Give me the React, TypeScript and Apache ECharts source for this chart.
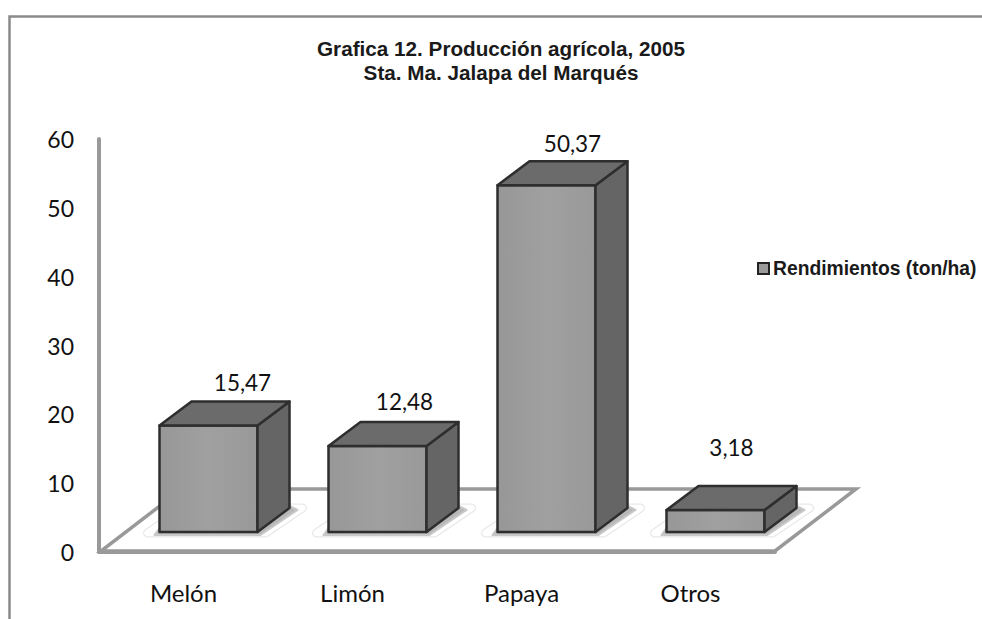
import React, { useEffect, useRef } from "react";
import * as echarts from "echarts";

const categories = ["Melón", "Limón", "Papaya", "Otros"];
const rendimientos = [15.47, 12.48, 50.37, 3.18];
const seriesName = "Rendimientos (ton/ha)";
const titleText = "Grafica 12. Producción agrícola, 2005\nSta. Ma. Jalapa del Marqués";
const yTicks = { min: 0, max: 60, interval: 10 };

// Placement of each data label relative to its bar (dx, dy in px)
const labelNudgeX = [34, 27, 26, 16];
const labelNudgeY = [-43, -45, -42, -63];

const TICK_FONT = "Lato, Carlito, sans-serif";
const BOLD_FONT = "'Liberation Sans', Arial, sans-serif";

const BAR_W = 98;
const DEPTH_X = 32;
const DEPTH_Y = -24;
const FLOOR_DX = 25;
const FLOOR_DY = -20;

function renderBar(_params: any, api: any) {
  const i = api.value(0);
  const v = api.value(1);
  const top = api.coord([i, v]);
  const base = api.coord([i, 0]);
  const cx = top[0] + FLOOR_DX;
  const fx = cx - BAR_W / 2;
  const rx = fx + BAR_W;
  const ty = top[1] + FLOOR_DY;
  const by = base[1] + FLOOR_DY;
  const edge = { stroke: "#2e2e2e", lineWidth: 2.5, lineJoin: "round" };
  const poly = (points: number[][], fill: any, extra: any = {}) => ({
    type: "polygon",
    shape: { points },
    style: { fill, ...edge, ...extra },
  });
  const halo = [
    [fx - 12, by + 1],
    [fx + 106, by + 1],
    [fx + 143, by - 24],
    [fx + 25, by - 24],
  ];
  const shade = [
    [fx - 5, by + 3],
    [rx + 3, by + 3],
    [rx + DEPTH_X + 8, by + DEPTH_Y + 2],
    [rx + DEPTH_X, by + DEPTH_Y - 2],
    [fx, by - 4],
  ];
  return {
    type: "group",
    children: [
      poly(halo, "#ffffff", { stroke: "#e8e8e8", lineWidth: 9 }),
      poly(halo, "#ffffff", { stroke: "#ffffff", lineWidth: 6.5 }),
      poly(shade, "#b8b8b8", { stroke: "#c8c8c8", lineWidth: 2 }),
      poly(
        [
          [fx, ty],
          [rx, ty],
          [rx, by],
          [fx, by],
        ],
        new echarts.graphic.LinearGradient(0, 0, 1, 0, [
          { offset: 0, color: "#979797" },
          { offset: 0.5, color: "#a0a0a0" },
          { offset: 1, color: "#999999" },
        ])
      ),
      poly(
        [
          [rx, ty],
          [rx + DEPTH_X, ty + DEPTH_Y],
          [rx + DEPTH_X, by + DEPTH_Y],
          [rx, by],
        ],
        "#656565"
      ),
      poly(
        [
          [fx, ty],
          [fx + DEPTH_X, ty + DEPTH_Y],
          [rx + DEPTH_X, ty + DEPTH_Y],
          [rx, ty],
        ],
        "#6b6b6b"
      ),
      {
        type: "text",
        style: {
          text: String(v).replace(".", ","),
          x: cx + labelNudgeX[i],
          y: ty + labelNudgeY[i],
          align: "center",
          verticalAlign: "middle",
          fontFamily: TICK_FONT,
          fontSize: 22.5,
          fill: "#111111",
        },
      },
    ],
  };
}

export default function App() {
  const ref = useRef<HTMLDivElement>(null);
  useEffect(() => {
    document.body.style.margin = "0";
    document.body.style.background = "#ffffff";
    const chart = echarts.init(ref.current!, null, { renderer: "svg" });
    chart.setOption({
      animation: false,
      backgroundColor: "#ffffff",
      title: {
        text: titleText,
        left: 501,
        top: 36,
        padding: 0,
        textAlign: "center",
        textStyle: {
          fontFamily: BOLD_FONT,
          fontWeight: "bold",
          fontSize: 20.7,
          lineHeight: 24,
          color: "#1a1a1a",
        },
      },
      legend: {
        left: 757,
        top: 259,
        padding: 0,
        itemWidth: 11,
        itemHeight: 11,
        itemGap: 0,
        data: [
          {
            name: seriesName,
            icon: "rect",
            itemStyle: { color: "#9a9a9a", borderColor: "#222222", borderWidth: 2 },
          },
        ],
        textStyle: {
          fontFamily: BOLD_FONT,
          fontWeight: "bold",
          fontSize: 19.3,
          color: "#1a1a1a",
          padding: [0, 0, 0, -1],
        },
      },
      grid: { left: 99, right: 207, top: 139, bottom: 67 },
      xAxis: {
        type: "category",
        data: categories,
        axisLine: { show: true, lineStyle: { color: "#999999", width: 4 } },
        axisTick: { show: false },
        splitLine: { show: false },
        axisLabel: {
          margin: 28,
          fontFamily: TICK_FONT,
          fontSize: 24,
          color: "#111111",
        },
      },
      yAxis: {
        type: "value",
        min: yTicks.min,
        max: yTicks.max,
        interval: yTicks.interval,
        axisLine: { show: true, lineStyle: { color: "#999999", width: 4 } },
        axisTick: { show: false },
        splitLine: { show: false },
        axisLabel: {
          margin: 25,
          fontFamily: TICK_FONT,
          fontSize: 23,
          color: "#111111",
        },
      },
      graphic: [
        {
          type: "polyline",
          z: 0,
          silent: true,
          shape: {
            points: [
              [9.5, 619],
              [9.5, 16.5],
              [982, 16.5],
            ],
          },
          style: { stroke: "#8a8a8a", lineWidth: 2.5, fill: "none" },
        },
        {
          type: "polygon",
          z: 0,
          silent: true,
          shape: {
            points: [
              [101, 551],
              [775, 551],
              [856, 489],
              [182, 489],
            ],
          },
          style: { stroke: "#999999", lineWidth: 3.5, fill: "#ffffff" },
        },
      ],
      series: [
        {
          type: "custom",
          name: seriesName,
          z: 5,
          clip: false,
          renderItem: renderBar,
          encode: { x: 0, y: 1 },
          itemStyle: { color: "#9a9a9a" },
          data: rendimientos.map((v, i) => [i, v]),
        },
      ],
    });
    return () => chart.dispose();
  }, []);
  return (
    <div
      ref={ref}
      style={{ position: "absolute", left: 0, top: 0, width: 982, height: 619 }}
    />
  );
}
